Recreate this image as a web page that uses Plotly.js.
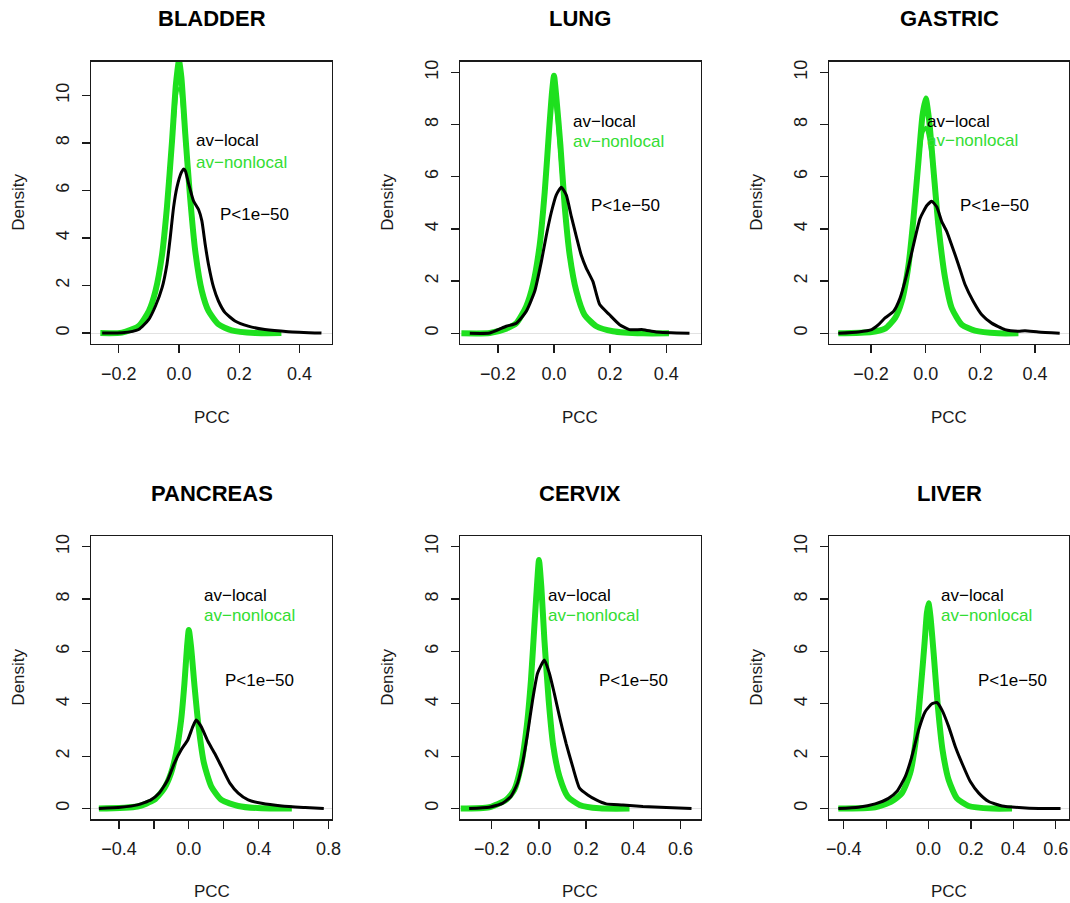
<!DOCTYPE html>
<html>
<head>
<meta charset="utf-8">
<script src="https://cdn.plot.ly/plotly-3.0.1.min.js"></script>
<style>html,body{margin:0;padding:0;background:#fff;}#chart{width:1070px;height:903px;}</style>
</head>
<body>
<div id="chart"></div>
<script>
// ---------------- DATA ----------------
const panelTitles = ['BLADDER', 'LUNG', 'GASTRIC', 'PANCREAS', 'CERVIX', 'LIVER'];
const seriesNames = ['av−local', 'av−nonlocal'];
const pLabel = 'P&lt;1e−50';
const xAxisLabel = 'PCC';
const yAxisLabel = 'Density';

const yTickVals = [0, 2, 4, 6, 8, 10];
const yTickText = ['0', '2', '4', '6', '8', '10'];

const bladderTickVals = [-0.2, 0, 0.2, 0.4];
const bladderTickText = ['−0.2', '0.0', '0.2', '0.4'];
const lungTickVals = [-0.2, 0, 0.2, 0.4];
const lungTickText = ['−0.2', '0.0', '0.2', '0.4'];
const gastricTickVals = [-0.2, 0, 0.2, 0.4];
const gastricTickText = ['−0.2', '0.0', '0.2', '0.4'];
const pancreasTickVals = [-0.4, -0.2, 0, 0.2, 0.4, 0.6, 0.8];
const pancreasTickText = ['−0.4', '', '0.0', '', '0.4', '', '0.8'];
const cervixTickVals = [-0.2, 0, 0.2, 0.4, 0.6];
const cervixTickText = ['−0.2', '0.0', '0.2', '0.4', '0.6'];
const liverTickVals = [-0.4, -0.2, 0, 0.2, 0.4, 0.6];
const liverTickText = ['−0.4', '', '0.0', '0.2', '0.4', '0.6'];

// BLADDER
const bladderLocalX = [-0.255, -0.189, -0.134, -0.1, -0.078, -0.056, -0.04, -0.029, -0.018, -0.007, 0.008, 0.015, 0.021, 0.032, 0.0485, 0.065, 0.076, 0.087, 0.098, 0.115, 0.131, 0.153, 0.186, 0.23, 0.285, 0.363, 0.473];
const bladderLocalY = [0, 0.01, 0.15, 0.58, 1.14, 1.91, 2.89, 4.02, 5.28, 6.12, 6.76, 6.9, 6.83, 6.29, 5.56, 5.2, 4.72, 3.74, 2.89, 1.92, 1.35, 0.86, 0.51, 0.29, 0.15, 0.06, 0.0];
const bladderNonlocalX = [-0.261, -0.189, -0.134, -0.1, -0.078, -0.056, -0.04, -0.023, -0.01, 0.0, 0.008, 0.021, 0.037, 0.054, 0.076, 0.098, 0.131, 0.175, 0.253, 0.34];
const bladderNonlocalY = [0, 0.02, 0.29, 0.93, 1.77, 3.31, 5.28, 8.09, 10.48, 11.46, 10.76, 8.37, 5.7, 3.46, 1.77, 0.93, 0.37, 0.11, 0.0, 0.0];
const bladderNonlocal2X = [-0.03, -0.015, -0.005, 0.003, 0.012, 0.025];
const bladderNonlocal2Y = [6.5, 9.0, 10.2, 10.3, 9.4, 7.2];

// LUNG
const lungLocalX = [-0.30, -0.229, -0.17, -0.134, -0.099, -0.069, -0.045, -0.027, -0.009, 0.008, 0.026, 0.044, 0.062, 0.08, 0.097, 0.115, 0.139, 0.163, 0.198, 0.234, 0.269, 0.317, 0.364, 0.483];
const lungLocalY = [0, 0.01, 0.27, 0.39, 0.84, 1.6, 2.75, 3.77, 4.66, 5.3, 5.6, 5.3, 4.47, 3.7, 3.0, 2.5, 1.98, 1.1, 0.71, 0.33, 0.14, 0.14, 0.05, 0];
const lungNonlocalX = [-0.33, -0.229, -0.17, -0.134, -0.099, -0.075, -0.051, -0.033, -0.018, -0.007, 0.0, 0.008, 0.023, 0.038, 0.056, 0.08, 0.109, 0.151, 0.21, 0.317, 0.41];
const lungNonlocalY = [0, 0.01, 0.18, 0.39, 1.03, 1.86, 3.38, 5.42, 7.7, 9.24, 9.87, 9.1, 7.2, 4.9, 3.0, 1.6, 0.71, 0.27, 0.08, 0, 0];
const lungNonlocal2X = [-0.04, -0.02, -0.007, 0.0, 0.008, 0.02, 0.035];
const lungNonlocal2Y = [4.4, 7.3, 8.7, 9.0, 8.5, 7.0, 5.0];

// GASTRIC
const gastricLocalX = [-0.32, -0.246, -0.198, -0.173, -0.149, -0.118, -0.094, -0.07, -0.045, -0.021, 0.004, 0.022, 0.04, 0.059, 0.077, 0.095, 0.12, 0.144, 0.174, 0.205, 0.241, 0.29, 0.339, 0.363, 0.412, 0.49];
const gastricLocalY = [0, 0.05, 0.14, 0.33, 0.59, 0.84, 1.35, 2.24, 3.38, 4.4, 4.9, 5.06, 4.85, 4.27, 3.9, 3.38, 2.62, 1.86, 1.22, 0.71, 0.39, 0.14, 0.08, 0.1, 0.05, 0];
const gastricNonlocalX = [-0.32, -0.198, -0.149, -0.112, -0.088, -0.063, -0.045, -0.027, -0.012, 0.0, 0.012, 0.028, 0.046, 0.071, 0.095, 0.132, 0.18, 0.266, 0.339];
const gastricNonlocalY = [0, 0.05, 0.18, 0.59, 1.22, 2.62, 4.4, 6.56, 8.35, 9.0, 8.2, 6.3, 4.15, 2.1, 0.97, 0.33, 0.1, 0, 0];
const gastricNonlocal2X = [-0.045, -0.025, -0.01, 0.0, 0.01, 0.025, 0.045];
const gastricNonlocal2Y = [4.2, 6.6, 7.7, 7.9, 7.5, 6.3, 3.9];

// PANCREAS
const pancreasLocalX = [-0.515, -0.39, -0.294, -0.217, -0.169, -0.121, -0.083, -0.044, -0.006, 0.023, 0.042, 0.071, 0.11, 0.148, 0.187, 0.235, 0.283, 0.34, 0.417, 0.533, 0.667, 0.773];
const pancreasLocalY = [0, 0.05, 0.14, 0.33, 0.59, 1.09, 1.73, 2.24, 2.62, 3.13, 3.38, 3.13, 2.56, 2.11, 1.6, 0.97, 0.59, 0.33, 0.2, 0.1, 0.04, 0];
const pancreasNonlocalX = [-0.515, -0.294, -0.198, -0.14, -0.102, -0.073, -0.044, -0.025, -0.01, 0.0, 0.013, 0.033, 0.056, 0.087, 0.129, 0.187, 0.283, 0.417, 0.59];
const pancreasNonlocalY = [0, 0.08, 0.33, 0.78, 1.35, 2.11, 3.38, 4.78, 6.18, 6.82, 6.18, 4.66, 3.13, 1.73, 0.84, 0.33, 0.1, 0.01, 0];

// CERVIX
const cervixLocalX = [-0.296, -0.211, -0.155, -0.119, -0.091, -0.07, -0.048, -0.027, -0.006, 0.023, 0.044, 0.065, 0.087, 0.115, 0.143, 0.172, 0.207, 0.243, 0.285, 0.356, 0.441, 0.54, 0.647];
const cervixLocalY = [0, 0.05, 0.2, 0.46, 0.97, 1.73, 2.88, 4.15, 5.17, 5.67, 5.17, 4.4, 3.51, 2.49, 1.6, 0.78, 0.52, 0.33, 0.18, 0.14, 0.08, 0.04, 0];
const cervixNonlocalX = [-0.332, -0.211, -0.14, -0.105, -0.077, -0.052, -0.034, -0.017, -0.007, 0.0, 0.01, 0.023, 0.041, 0.061, 0.087, 0.122, 0.172, 0.257, 0.384];
const cervixNonlocalY = [0, 0.05, 0.33, 0.71, 1.6, 3.13, 4.91, 7.33, 8.73, 9.49, 8.47, 6.44, 4.15, 2.37, 1.22, 0.46, 0.14, 0.01, 0];
const cervixNonlocal2X = [-0.03, -0.015, -0.005, 0.002, 0.01, 0.022, 0.04];
const cervixNonlocal2Y = [5.3, 7.6, 8.6, 8.8, 8.2, 6.5, 4.0];

// LIVER
const liverLocalX = [-0.426, -0.331, -0.252, -0.189, -0.15, -0.11, -0.079, -0.047, -0.016, 0.016, 0.039, 0.063, 0.095, 0.126, 0.158, 0.197, 0.237, 0.284, 0.347, 0.426, 0.52, 0.623];
const liverLocalY = [0, 0.05, 0.18, 0.39, 0.65, 1.22, 1.98, 3.0, 3.7, 4.0, 4.05, 3.77, 3.13, 2.37, 1.73, 1.03, 0.59, 0.27, 0.1, 0.04, 0.0, 0];
const liverNonlocalX = [-0.426, -0.252, -0.174, -0.126, -0.087, -0.06, -0.036, -0.019, -0.008, 0.0, 0.009, 0.024, 0.044, 0.066, 0.095, 0.134, 0.189, 0.3, 0.394];
const liverNonlocalY = [0, 0.05, 0.27, 0.59, 1.35, 2.62, 4.66, 6.31, 7.46, 7.84, 7.33, 5.93, 3.89, 2.24, 1.09, 0.39, 0.1, 0, 0];
const liverNonlocal2X = [-0.035, -0.018, -0.006, 0.002, 0.01, 0.024, 0.045];
const liverNonlocal2Y = [4.7, 6.3, 7.1, 7.2, 6.8, 5.7, 3.6];

// annotation anchor points (data coords)
const labelLocalX = [0.054, 0.065, 0.0, 0.081, 0.033, 0.052];
const labelLocalY = [8.09, 8.13, 8.13, 8.13, 8.13, 8.13];
const labelNonlocalY = [7.2, 7.37, 7.39, 7.37, 7.39, 7.37];
const labelPX = [0.133, 0.127, 0.123, 0.202, 0.251, 0.229];
const labelPY = [4.99, 4.91, 4.91, 4.91, 4.91, 4.91];

// ---------------- BUILD ----------------
const panels = [
  {title: panelTitles[0], lx: bladderLocalX, ly: bladderLocalY, nx: bladderNonlocalX, ny: bladderNonlocalY, n2x: bladderNonlocal2X, n2y: bladderNonlocal2Y, tv: bladderTickVals, tt: bladderTickText, xr: [-0.292, 0.508], yr: [-0.46, 11.43]},
  {title: panelTitles[1], lx: lungLocalX, ly: lungLocalY, nx: lungNonlocalX, ny: lungNonlocalY, n2x: lungNonlocal2X, n2y: lungNonlocal2Y, tv: lungTickVals, tt: lungTickText, xr: [-0.335, 0.523], yr: [-0.41, 10.42]},
  {title: panelTitles[2], lx: gastricLocalX, ly: gastricLocalY, nx: gastricNonlocalX, ny: gastricNonlocalY, n2x: gastricNonlocal2X, n2y: gastricNonlocal2Y, tv: gastricTickVals, tt: gastricTickText, xr: [-0.354, 0.524], yr: [-0.41, 10.42]},
  {title: panelTitles[3], lx: pancreasLocalX, ly: pancreasLocalY, nx: pancreasNonlocalX, ny: pancreasNonlocalY, n2x: [], n2y: [], tv: pancreasTickVals, tt: pancreasTickText, xr: [-0.56, 0.82], yr: [-0.41, 10.41]},
  {title: panelTitles[4], lx: cervixLocalX, ly: cervixLocalY, nx: cervixNonlocalX, ny: cervixNonlocalY, n2x: cervixNonlocal2X, n2y: cervixNonlocal2Y, tv: cervixTickVals, tt: cervixTickText, xr: [-0.335, 0.686], yr: [-0.41, 10.41]},
  {title: panelTitles[5], lx: liverLocalX, ly: liverLocalY, nx: liverNonlocalX, ny: liverNonlocalY, n2x: liverNonlocal2X, n2y: liverNonlocal2Y, tv: liverTickVals, tt: liverTickText, xr: [-0.47, 0.663], yr: [-0.41, 10.41]}
];

const W = 1070, H = 903;
const FONT = 'Liberation Sans, Arial, Helvetica, sans-serif';
const GREEN = '#1ee01e';
const INK = '#1a1a1a';
const colL = [91, 460, 829], colR = [332, 700.7, 1069];
const rowT = [61.5, 536], rowB = [344, 819.3];

const data = [];
const layout = {
  width: W, height: H,
  margin: {l: 0, r: 0, t: 0, b: 0},
  paper_bgcolor: '#fff', plot_bgcolor: '#fff',
  showlegend: false,
  font: {family: FONT, color: INK},
  annotations: []
};

panels.forEach((p, i) => {
  const c = i % 3, r = Math.floor(i / 3);
  const n = i + 1;
  const xa = 'x' + (n === 1 ? '' : n), ya = 'y' + (n === 1 ? '' : n);
  const xk = 'xaxis' + (n === 1 ? '' : n), yk = 'yaxis' + (n === 1 ? '' : n);
  const xd = [colL[c] / W, colR[c] / W];
  const yd = [1 - rowB[r] / H, 1 - rowT[r] / H];

  layout[xk] = {
    domain: xd, range: p.xr, anchor: ya,
    showline: true, linecolor: INK, linewidth: 1.4, mirror: true,
    ticks: 'outside', ticklen: 8, tickwidth: 1.3, tickcolor: INK,
    tickvals: p.tv, ticktext: p.tt,
    tickfont: {family: FONT, size: 18, color: INK},
    ticklabelstandoff: 5,
    showgrid: false, zeroline: false, fixedrange: true
  };
  layout[yk] = {
    domain: yd, range: p.yr, anchor: xa,
    showline: true, linecolor: INK, linewidth: 1.4, mirror: true,
    ticks: 'outside', ticklen: 8, tickwidth: 1.3, tickcolor: INK,
    tickvals: yTickVals, ticktext: yTickText, tickangle: -90,
    tickfont: {family: FONT, size: 18, color: INK},
    ticklabelstandoff: 5,
    showgrid: false, zeroline: true, zerolinecolor: '#e2e2e2', zerolinewidth: 1,
    fixedrange: true
  };

  data.push({x: p.nx, y: p.ny, xaxis: xa, yaxis: ya, type: 'scatter', mode: 'lines',
    line: {color: GREEN, width: 6, shape: 'spline', smoothing: 0.6}, hoverinfo: 'skip'});
  if (p.n2x.length) {
    data.push({x: p.n2x, y: p.n2y, xaxis: xa, yaxis: ya, type: 'scatter', mode: 'lines',
      line: {color: GREEN, width: 3, shape: 'spline', smoothing: 0.6}, hoverinfo: 'skip'});
  }
  data.push({x: p.lx, y: p.ly, xaxis: xa, yaxis: ya, type: 'scatter', mode: 'lines',
    line: {color: '#000', width: 3, shape: 'spline', smoothing: 0.5}, hoverinfo: 'skip'});

  const cx = (colL[c] + colR[c]) / 2 / W;
  const cy = 1 - (rowT[r] + rowB[r]) / 2 / H;

  layout.annotations.push({xref: 'paper', yref: 'paper', x: cx, y: 1 - (19 + r * 474.5) / H,
    xanchor: 'center', yanchor: 'middle', showarrow: false,
    text: '<b>' + p.title + '</b>', font: {family: FONT, size: 22, color: '#000'}});
  layout.annotations.push({xref: 'paper', yref: 'paper', x: cx, y: 1 - (417 + r * 474.5) / H,
    xanchor: 'center', yanchor: 'middle', showarrow: false,
    text: xAxisLabel, font: {family: FONT, size: 17, color: INK}});
  layout.annotations.push({xref: 'paper', yref: 'paper', x: (colL[c] - 72) / W, y: cy,
    xanchor: 'center', yanchor: 'middle', showarrow: false, textangle: -90,
    text: yAxisLabel, font: {family: FONT, size: 17, color: INK}});
  layout.annotations.push({xref: xa, yref: ya, x: labelLocalX[i], y: labelLocalY[i],
    xanchor: 'left', yanchor: 'middle', showarrow: false, borderpad: 0,
    text: seriesNames[0], font: {family: FONT, size: 17, color: '#000'}});
  layout.annotations.push({xref: xa, yref: ya, x: labelLocalX[i], y: labelNonlocalY[i],
    xanchor: 'left', yanchor: 'middle', showarrow: false, borderpad: 0,
    text: seriesNames[1], font: {family: FONT, size: 17, color: '#33dd33'}});
  layout.annotations.push({xref: xa, yref: ya, x: labelPX[i], y: labelPY[i],
    xanchor: 'left', yanchor: 'middle', showarrow: false, borderpad: 0,
    text: pLabel, font: {family: FONT, size: 17, color: '#000'}});
});

Plotly.newPlot('chart', data, layout, {staticPlot: true, displayModeBar: false});
</script>
</body>
</html>
